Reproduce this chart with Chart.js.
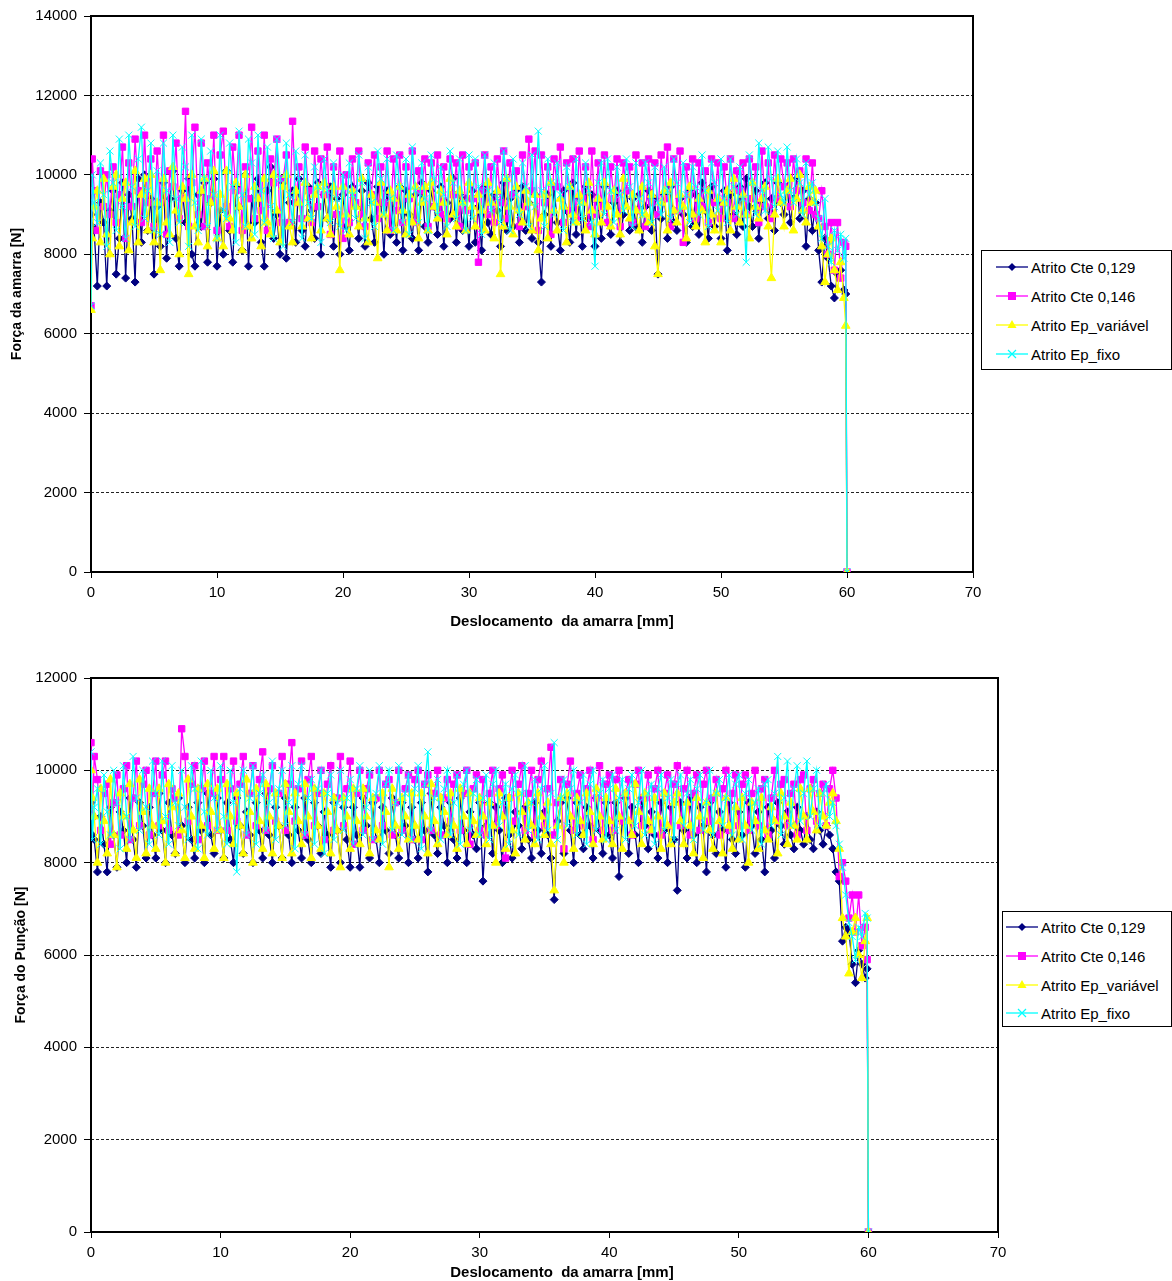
<!DOCTYPE html>
<html>
<head>
<meta charset="utf-8">
<script src="https://cdn.jsdelivr.net/npm/chart.js@4.4.1/dist/chart.umd.min.js"></script>
<style>
  body { margin: 0; background: #fff; width: 1172px; height: 1281px; position: relative; overflow: hidden;
         font-family: "Liberation Sans", Arial, sans-serif; color: #000; }
  canvas { position: absolute; left: 0; }
  #chartAmarra { top: 0; }
  #chartPuncao { top: 660px; }
  .xtitle { position: absolute; font-weight: bold; font-size: 15px; line-height: 18px; white-space: pre; transform: translateX(-50%); }
  .legend { position: absolute; box-sizing: border-box; border: 1px solid #000; background: #fff; font-size: 15px; }
  .legend .row { position: absolute; height: 20px; display: flex; align-items: center; white-space: nowrap; }
  .legend .row span { margin-left: 3px; }
</style>
</head>
<body>
<canvas id="chartAmarra" width="990" height="640"></canvas>
<canvas id="chartPuncao" width="1010" height="621"></canvas>
<div class="xtitle" style="left:562px;top:612px">Deslocamento  da amarra [mm]</div>
<div class="xtitle" style="left:562px;top:1263px">Deslocamento  da amarra [mm]</div>
<div class="legend" id="legendAmarra" style="left:981px;top:250px;width:191px;height:120px"></div>
<div class="legend" id="legendPuncao" style="left:1002px;top:911px;width:170px;height:116px"></div>

<script>
// displacement of the clamp [mm], shared by both charts
const displacement = [
  0, 0.1,
  0.25, 0.5, 0.75, 1, 1.25, 1.5, 1.75, 2, 2.25, 2.5, 2.75, 3, 3.25, 3.5, 3.75, 4, 4.25, 4.5, 4.75, 5,
  5.25, 5.5, 5.75, 6, 6.25, 6.5, 6.75, 7, 7.25, 7.5, 7.75, 8, 8.25, 8.5, 8.75, 9, 9.25, 9.5, 9.75, 10,
  10.25, 10.5, 10.75, 11, 11.25, 11.5, 11.75, 12, 12.25, 12.5, 12.75, 13, 13.25, 13.5, 13.75, 14, 14.25, 14.5, 14.75, 15,
  15.25, 15.5, 15.75, 16, 16.25, 16.5, 16.75, 17, 17.25, 17.5, 17.75, 18, 18.25, 18.5, 18.75, 19, 19.25, 19.5, 19.75, 20,
  20.25, 20.5, 20.75, 21, 21.25, 21.5, 21.75, 22, 22.25, 22.5, 22.75, 23, 23.25, 23.5, 23.75, 24, 24.25, 24.5, 24.75, 25,
  25.25, 25.5, 25.75, 26, 26.25, 26.5, 26.75, 27, 27.25, 27.5, 27.75, 28, 28.25, 28.5, 28.75, 29, 29.25, 29.5, 29.75, 30,
  30.25, 30.5, 30.75, 31, 31.25, 31.5, 31.75, 32, 32.25, 32.5, 32.75, 33, 33.25, 33.5, 33.75, 34, 34.25, 34.5, 34.75, 35,
  35.25, 35.5, 35.75, 36, 36.25, 36.5, 36.75, 37, 37.25, 37.5, 37.75, 38, 38.25, 38.5, 38.75, 39, 39.25, 39.5, 39.75, 40,
  40.25, 40.5, 40.75, 41, 41.25, 41.5, 41.75, 42, 42.25, 42.5, 42.75, 43, 43.25, 43.5, 43.75, 44, 44.25, 44.5, 44.75, 45,
  45.25, 45.5, 45.75, 46, 46.25, 46.5, 46.75, 47, 47.25, 47.5, 47.75, 48, 48.25, 48.5, 48.75, 49, 49.25, 49.5, 49.75, 50,
  50.25, 50.5, 50.75, 51, 51.25, 51.5, 51.75, 52, 52.25, 52.5, 52.75, 53, 53.25, 53.5, 53.75, 54, 54.25, 54.5, 54.75, 55,
  55.25, 55.5, 55.75, 56, 56.25, 56.5, 56.75, 57, 57.25, 57.5,
  57.75, 58, 58.25, 58.5, 58.75, 59, 59.25, 59.5, 59.75,
  59.9, 60
];

const seriesNames = ["Atrito Cte 0,129", "Atrito Cte 0,146", "Atrito Ep_variável", "Atrito Ep_fixo"];

// Força da amarra [N]
const amarraCte129 = [
  9000, 8700,
  8600, 7200, 9300, 8800, 7200, 9100, 9600, 7500, 8400, 9800, 7400, 9500, 8900, 7300, 9900, 8300, 10000, 8600, 9400, 7500,
  9200, 8200, 9800, 7900, 9400, 10100, 8400, 7700, 9600, 8800, 9900, 8000, 7700, 9500, 8700, 9800, 7800, 9300, 9900, 7700,
  9100, 8000, 10100, 8600, 7800, 9700, 9200, 8100, 10000, 7700, 9400, 8800, 9900, 8300, 7700, 9600, 10200, 8400, 9000, 8000,
  9800, 7900, 9300, 9600, 8300, 9900, 8600, 8200, 9700, 9100, 8400, 9800, 8000, 9500, 8900, 9700, 8200, 9400, 8000, 9500,
  8700, 8100, 9700, 9200, 8400, 9600, 8200, 9800, 8900, 8300, 9700, 9300, 8000, 9600, 8500, 9400, 8300, 9700, 8100, 9600,
  9000, 8400, 9500, 8100, 9800, 8700, 8300, 9600, 9200, 8500, 9700, 8200, 9300, 8900, 9900, 8300, 9500, 8600, 9400, 8200,
  9600, 8300, 9200, 8100, 9700, 8800, 8500, 9500, 9100, 8200, 9800, 8600, 9400, 8700, 9600, 8300, 9700, 8600, 9300, 8400,
  9500, 8300, 7300, 9000, 9500, 8200, 9700, 8800, 8100, 9600, 9100, 8300, 9800, 8500, 9400, 8200, 9700, 8900, 9500, 8200,
  9300, 8400, 9700, 8800, 8500, 9300, 9600, 8300, 9000, 9600, 8600, 9400, 8700, 9500, 8300, 9200, 9600, 8600, 9400, 7500,
  8900, 9500, 8400, 9700, 8800, 8600, 9400, 9000, 8300, 9600, 8700, 9500, 8500, 9800, 9100, 8400, 9700, 8700, 9300, 8400,
  9600, 8100, 9500, 9000, 8500, 9700, 8700, 9900, 9200, 8700, 9600, 8400, 9300, 9800, 8900, 9400, 8600, 9800, 9300, 9000,
  9700, 8800, 9400, 9900, 8900, 9600, 8200, 9400, 8600, 9300,
  8100, 7300, 8400, 7900, 7200, 6900, 7500, 7600, 7100,
  7000, 0
];
const amarraCte146 = [
  6700, 10400,
  9600, 8600, 10100, 9200, 10000, 9000, 10200, 8800, 9500, 10700, 8400, 10300, 9200, 10900, 9600, 8800, 11000, 9300, 10400, 8700,
  10600, 9300, 11000, 8500, 10100, 9700, 10800, 8900, 9400, 11600, 8700, 9800, 11200, 9000, 10800, 8700, 10300, 9400, 11000, 8600,
  10500, 11100, 9200, 8700, 10700, 9600, 11000, 8600, 10200, 9400, 11200, 8900, 10600, 9100, 11000, 8600, 10400, 9800, 10900, 8800,
  9900, 10500, 8800, 11350, 9300, 10200, 8900, 10700, 9600, 8800, 10600, 9200, 10400, 9500, 10700, 8500, 10200, 9000, 10600, 8400,
  10000, 8800, 10400, 9300, 10600, 9000, 8700, 10300, 9500, 10500, 8900, 10200, 9300, 10600, 8600, 10400, 9100, 10500, 8800, 10200,
  9400, 10600, 8800, 10100, 9600, 10400, 8700, 10300, 9200, 10500, 9000, 10200, 8900, 10400, 9500, 10300, 8700, 10500, 9100, 10200,
  9400, 10300, 7800, 9600, 10500, 9000, 10200, 8800, 10400, 9300, 10600, 8900, 10300, 9500, 10100, 8700, 10500, 9200, 10900, 9600,
  10600, 8600, 10500, 9300, 10200, 8500, 10400, 9700, 10700, 8800, 10300, 9100, 10400, 8900, 10600, 9400, 10200, 8700, 10600, 9000,
  10300, 9200, 10500, 8800, 10200, 9400, 10400, 8700, 10300, 9600, 10200, 8800, 10500, 9100, 10300, 8700, 10400, 9300, 10300, 9000,
  10500, 9400, 10700, 8700, 10400, 9100, 10600, 8300, 10200, 9500, 10400, 8900, 10300, 9200, 10100, 8800, 10400, 9300, 10300, 8900,
  10200, 9300, 10400, 8900, 10100, 9600, 10300, 9000, 10400, 9400, 10200, 8800, 10600, 9200, 10300, 8900, 10500, 9400, 10400, 9700,
  10300, 9200, 10400, 9600, 10100, 9300, 10400, 9100, 10300, 9000,
  8900, 9600, 8700, 8000, 8800, 7600, 8800, 7400, 8300,
  8200, 0
];
const amarraEpVar = [
  6600, 8400,
  9200, 9600, 8300, 9900, 8500, 8000, 9700, 10000, 8200, 9400, 9800, 8100, 8800, 10100, 8300, 9500, 9900, 8600, 10000, 8300,
  9300, 7600, 9900, 8800, 8500, 10200, 9100, 8000, 9700, 9400, 7500, 10000, 8700, 8300, 9600, 9900, 8200, 9300, 10100, 8400,
  9500, 8200, 10100, 8900, 8600, 9800, 9200, 8100, 10000, 8700, 8400, 9700, 9400, 8200, 9900, 8800, 8500, 10000, 9100, 8300,
  9700, 10000, 8700, 8300, 9600, 9300, 8700, 9800, 8900, 8400, 9500, 9700, 8600, 9800, 8900, 8500, 9700, 9200, 7600, 9700,
  9000, 8500, 9600, 9200, 8700, 9900, 8900, 8300, 9500, 9300, 7900, 9800, 9000, 8600, 9600, 9400, 8600, 9700, 9100, 8500,
  9500, 8800, 9700, 8400, 9300, 9700, 8600, 9800, 9200, 8900, 9600, 9300, 8500, 9900, 9000, 8700, 9600, 9300, 8600, 9800,
  9200, 8700, 9500, 9100, 8600, 9800, 9300, 8400, 9600, 7500, 8700, 9900, 9200, 8500, 9700, 9100, 8800, 9600, 9300, 8600,
  9500, 8100, 8900, 9500, 8400, 9800, 9100, 8600, 9400, 9200, 8300, 9700, 9000, 8800, 9500, 9300, 8600, 9800, 9100, 8500,
  9400, 8800, 9800, 9200, 8700, 9600, 9000, 8500, 9900, 9200, 8900, 9500, 9100, 8600, 9700, 9000, 8800, 9500, 8200, 7500,
  9300, 9600, 8600, 9800, 9100, 8800, 9500, 9200, 8400, 9700, 9000, 8700, 9400, 9100, 8300, 9600, 9000, 8600, 9400, 8300,
  9300, 9600, 8600, 9900, 9200, 8800, 9500, 9000, 8400, 9800, 9200, 8900, 9400, 9700, 8700, 7400, 9000, 9900, 9300, 8700,
  9600, 9900, 8600, 9400, 10000, 9100, 8800, 9700, 9300, 9600,
  8700, 8200, 7300, 8000, 8400, 7600, 7100, 7800, 6900,
  6200, 0
];
const amarraEpFixo = [
  6700, 10000,
  9300, 8800, 10300, 9500, 8200, 10600, 9800, 8600, 10900, 9200, 8400, 11000, 9700, 8700, 10400, 11200, 8900, 9600, 10800, 8600,
  10100, 8500, 10800, 9600, 8300, 11000, 9400, 8800, 10700, 10200, 8200, 11000, 9300, 8600, 10900, 9900, 8700, 10600, 9500, 8400,
  11000, 9100, 8900, 10800, 9700, 8300, 11100, 9500, 8700, 10900, 10300, 8500, 11000, 9600, 8800, 10700, 9200, 8400, 10900, 9900,
  8200, 10800, 9500, 8800, 10600, 9900, 8400, 10500, 9300, 8900, 10200, 9700, 8300, 10400, 9600, 8800, 10300, 9400, 8700, 10000,
  8600, 10300, 9500, 8900, 10500, 9800, 8400, 10200, 9300, 8700, 10600, 9900, 9000, 10400, 9400, 8600, 10500, 9700, 8800, 10400,
  8500, 10700, 9600, 8800, 10300, 9400, 8600, 10500, 9900, 9000, 10200, 9500, 8700, 10600, 9800, 8900, 10400, 9300, 8600, 10500,
  8900, 10400, 9700, 8500, 10500, 9600, 9100, 10300, 9400, 8800, 10600, 9900, 8600, 10400, 9500, 9000, 10300, 9700, 8700, 10500,
  9200, 11100, 9600, 8700, 10400, 9800, 9000, 10300, 9500, 8600, 10200, 9700, 8800, 10400, 9300, 8900, 10300, 9600, 8800, 7700,
  9800, 10300, 9000, 10400, 9600, 8800, 10200, 9500, 9100, 10400, 9700, 8700, 10300, 9400, 9000, 10300, 9800, 8800, 10200, 9300,
  9000, 10200, 9600, 8900, 10400, 9800, 9100, 10300, 9500, 8800, 10200, 9700, 9000, 10500, 9600, 8700, 10300, 9800, 9100, 10400,
  9400, 8800, 10400, 9700, 9000, 10200, 9400, 7800, 10500, 9800, 9000, 10800, 9600, 9100, 10700, 9900, 9200, 10600, 9500, 9300,
  10700, 9600, 9300, 10400, 9800, 9000, 10300, 9500, 9800, 9300,
  8900, 8400, 9400, 8200, 7800, 8600, 8100, 8500, 7900,
  8400, 0
];

// Força do Punção [N]
const puncaoCte129 = [
  9300, 8600,
  8500, 7800, 9000, 8400, 7800, 9200, 8600, 7900, 9100, 8700, 8000, 9400, 8500, 7900, 9300, 8800, 8100, 9200, 8600, 8100,
  9500, 8700, 8000, 9300, 8600, 8200, 9400, 8800, 8000, 9200, 8500, 8100, 9300, 8700, 8000, 9500, 8600, 8200, 9400, 8700,
  8100, 9300, 8500, 8000, 9400, 8800, 8200, 9100, 8600, 8000, 9300, 8700, 8100, 9500, 8600, 8000, 9200, 8800, 8100, 9400,
  8600, 8000, 9200, 8700, 8100, 9400, 8500, 8000, 9300, 8800, 8200, 9100, 8600, 7900, 9300, 8700, 8000, 9200, 8500, 7900,
  9200, 8600, 7900, 9400, 8800, 8100, 9300, 8500, 8000, 9200, 8700, 8200, 9400, 8600, 8100, 9300, 8800, 8000, 9200, 8500,
  8100, 9300, 8700, 7800, 9500, 8600, 8200, 9200, 8800, 8000, 9300, 8500, 8100, 9400, 8700, 8000, 9100, 8600, 8300, 9300,
  7600, 8800, 9300, 8200, 9200, 8700, 8000, 9400, 8600, 8100, 9100, 8800, 8300, 9200, 8500, 8100, 9300, 8700, 8200, 9100,
  8600, 8100, 7200, 8900, 9300, 8200, 9400, 8700, 8000, 9300, 8600, 8300, 9200, 8800, 8100, 9400, 8700, 8200, 9300, 8600,
  8100, 9300, 7700, 8900, 9400, 8200, 9200, 8600, 8000, 9400, 8800, 8300, 9100, 8600, 8100, 9300, 8700, 8000, 9200, 8500,
  7400, 9300, 8700, 8100, 9400, 8600, 8000, 9200, 8800, 7800, 9300, 8600, 8200, 9100, 8700, 7900, 9300, 8500, 8200, 9100,
  8600, 7900, 9300, 8800, 8200, 9100, 8500, 7800, 9200, 8700, 8100, 9300, 8800, 8400, 9100, 8600, 8300, 9200, 8700, 8400,
  9000, 8500, 8300, 9100, 8700, 8400, 8800, 8600, 8300, 7800,
  7600, 6300, 6600, 6500, 5800, 5400, 6100, 5800, 5500,
  5700, 0
];
const puncaoCte146 = [
  10600, 9000,
  10300, 9800, 8700, 9500, 9700, 8400, 9300, 9900, 8600, 9600, 10100, 8500, 9400, 10200, 8800, 9700, 10000, 8600, 9500, 10200,
  8800, 9900, 10200, 8700, 9600, 9400, 8600, 10900, 10300, 8900, 9700, 10100, 8500, 9600, 10200, 8800, 9500, 10300, 8700, 9800,
  10300, 8700, 9600, 10200, 8900, 9700, 10300, 8600, 9500, 10100, 8800, 9800, 10400, 8700, 9600, 10100, 8900, 9500, 10300, 8700,
  9700, 10600, 8900, 9600, 10200, 8600, 9800, 10300, 8800, 9500, 10000, 8500, 9700, 10100, 8700, 9400, 10300, 8800, 9600, 10200,
  8400, 9500, 10000, 8700, 9600, 9900, 8500, 9400, 10000, 8800, 9700, 9800, 8600, 9300, 10000, 8700, 9600, 9900, 8500, 9800,
  10000, 8500, 9700, 9900, 8700, 9500, 10000, 8600, 9400, 9800, 8900, 9700, 9900, 8700, 9500, 10000, 8400, 9600, 9900, 8700,
  9800, 8600, 9500, 10000, 8800, 9600, 9900, 8100, 9400, 10000, 8900, 9700, 10100, 8700, 9500, 10000, 8600, 9800, 10200, 8800,
  9600, 10500, 8600, 9300, 9800, 8300, 9700, 10200, 8700, 9500, 9900, 8800, 9600, 10000, 8500, 9400, 10100, 8700, 9700, 9900,
  8700, 9800, 10000, 8900, 9500, 9800, 8600, 9700, 10000, 8800, 9400, 9900, 8700, 9600, 10000, 8600, 9500, 9900, 8800, 9700,
  10100, 8800, 9600, 10000, 8600, 9500, 9900, 8700, 9700, 10000, 8900, 9400, 9800, 8600, 9600, 10000, 8700, 9500, 9900, 8800,
  9700, 9900, 8700, 9500, 10000, 8800, 9600, 9800, 8600, 9400, 10000, 8900, 9700, 9800, 8800, 9500, 9700, 8600, 9800, 9900,
  8700, 9600, 9800, 8900, 9500, 9700, 8800, 9600, 10000, 9400,
  7700, 8000, 7600, 6800, 7300, 6500, 7300, 6200, 6600,
  5900, 0
];
const puncaoEpVar = [
  10000, 9400,
  9000, 8000, 9600, 8900, 8200, 9800, 8600, 7900, 9500, 9000, 8300, 9700, 8700, 8100, 9800, 9100, 8200, 9600, 8800, 8300,
  9600, 8900, 8000, 9700, 9200, 8200, 9500, 8700, 8100, 9800, 9000, 8300, 9600, 8800, 8100, 9700, 9100, 8300, 9600, 8700,
  8100, 9700, 9000, 8400, 9500, 8800, 8200, 9800, 9100, 8000, 9600, 8900, 8300, 9700, 9000, 8200, 9500, 8800, 8100, 9700,
  9100, 8200, 9500, 8900, 8400, 9700, 9000, 8100, 9600, 8800, 8300, 9500, 9100, 8200, 9400, 8700, 7900, 9400, 9000, 8300,
  9600, 8900, 8400, 9600, 9000, 8200, 9400, 8700, 8500, 9500, 9100, 7900, 9600, 8800, 8300, 9400, 9000, 8500, 9500, 8800,
  8500, 9500, 9000, 8200, 9700, 8900, 8400, 9400, 9100, 8600, 9500, 8800, 8300, 9600, 9000, 8400, 9500, 8900, 8600, 9400,
  9000, 8400, 9300, 8800, 8000, 9500, 9000, 8300, 9400, 8700, 8200, 9500, 9100, 8500, 9300, 8800, 8400, 9500, 9000, 8600,
  9300, 8400, 7400, 8800, 9400, 8000, 9500, 9000, 8300, 9400, 8900, 8600, 9500, 9100, 8400, 9600, 9000, 8500, 9400, 8900,
  8400, 9600, 9000, 8300, 9500, 8900, 8600, 9700, 9100, 8400, 9500, 8900, 8700, 9400, 9000, 8300, 9500, 8800, 8400, 9300,
  9500, 8900, 8400, 9300, 8800, 8200, 9400, 9000, 8100, 9300, 8700, 8300, 9500, 8900, 8200, 9400, 8800, 8300, 9200, 8500,
  9400, 8800, 8000, 9300, 8900, 8300, 9400, 8700, 8500, 9200, 8900, 8200, 9500, 9000, 8400, 9300, 8800, 8500, 9600, 9000,
  8500, 9600, 9100, 8700, 9500, 9000, 8800, 9300, 9500, 8900,
  8300, 6800, 6400, 5600, 6500, 6800, 6000, 5500, 6300,
  6800, 0
];
const puncaoEpFixo = [
  10400, 8500,
  9200, 9600, 8400, 9900, 9100, 8600, 10000, 9300, 8300, 10100, 9000, 8500, 10300, 9400, 8700, 10000, 9200, 8400, 10200, 9500,
  8600, 10200, 9000, 8400, 10100, 9300, 8800, 10000, 9200, 8500, 10100, 9600, 8300, 10200, 9100, 8600, 10000, 9400, 8700, 10100,
  9000, 8400, 10000, 9300, 7800, 9600, 10000, 8600, 9400, 10100, 8400, 9500, 9900, 8700, 9300, 10200, 8500, 9600, 10000, 8800,
  9300, 10100, 8300, 9700, 10100, 8600, 9400, 9800, 8400, 9600, 10000, 8200, 9500, 9900, 8500, 9300, 10000, 8700, 9400, 9800,
  8400, 9600, 10100, 8600, 9200, 10000, 8500, 9500, 10100, 8400, 9700, 10000, 8700, 9300, 10100, 8600, 9500, 9900, 8500, 9600,
  10100, 8300, 9700, 10400, 8700, 9400, 9800, 8500, 9600, 10000, 8600, 9300, 9900, 8400, 9700, 10000, 8700, 9500, 9800, 8600,
  9400, 9900, 8500, 9700, 10000, 8800, 9300, 9700, 8400, 9600, 9900, 8600, 9500, 10100, 8700, 9300, 9800, 8500, 9600, 10100,
  8700, 9500, 10600, 8500, 9400, 9800, 8800, 9600, 10000, 8600, 9300, 9900, 8400, 9700, 10000, 8700, 9500, 9800, 8500, 9600,
  9900, 8700, 9400, 9800, 8500, 9600, 9900, 8800, 9300, 10000, 8600, 9500, 9700, 8400, 9600, 9900, 8700, 9400, 9800, 8500,
  9700, 9900, 8800, 9500, 9800, 8500, 9600, 9900, 8700, 9300, 10000, 8600, 9500, 9800, 8800, 9400, 9900, 8600, 9700, 9900,
  8500, 9500, 9800, 8700, 9300, 9600, 8400, 9700, 9800, 8800, 9500, 10300, 8600, 9400, 10200, 8800, 9600, 10100, 8900, 9500,
  10200, 9000, 9600, 10000, 8800, 9500, 9700, 9000, 9300, 8800,
  8400, 7900, 7300, 6700, 6400, 5900, 6600, 6400, 6900,
  6800, 0
];

const colors = ["#000080", "#FF00FF", "#FFFF00", "#00FFFF"];
const markers = ["rectRot", "rect", "triangle", "crossRot"];
const markerSize = [4, 4.5, 5, 5];

function makeDatasets(seriesList) {
  return seriesList.map((values, i) => ({
    label: seriesNames[i],
    data: displacement.map((x, k) => ({ x: x, y: values[k] })),
    borderColor: colors[i],
    backgroundColor: colors[i],
    borderWidth: 1.3,
    pointStyle: markers[i],
    pointRadius: markerSize[i],
    pointBorderWidth: 1,
    pointBackgroundColor: colors[i],
    pointBorderColor: colors[i],
    order: 3 - i,
    tension: 0
  }));
}

// black frame round the plot area, like the spreadsheet chart
const frame = {
  id: "frame",
  beforeDatasetsDraw(chart) {
    const a = chart.chartArea;
    const ctx = chart.ctx;
    ctx.save();
    ctx.strokeStyle = "#000";
    ctx.lineWidth = 2;
    ctx.strokeRect(a.left, a.top, a.right - a.left, a.bottom - a.top);
    ctx.restore();
  }
};

function makeChart(canvasId, seriesList, yMax, yTitle, pad, xHeight, yTitlePad) {
  return new Chart(document.getElementById(canvasId), {
    type: "line",
    data: { datasets: makeDatasets(seriesList) },
    plugins: [frame],
    options: {
      responsive: false,
      animation: false,
      layout: { padding: pad },
      plugins: { legend: { display: false }, tooltip: { enabled: false } },
      scales: {
        x: {
          type: "linear",
          min: 0, max: 70,
          ticks: { stepSize: 10, color: "#000", padding: 6, font: { family: "Liberation Sans", size: 15 },
                   callback: v => String(v) },
          grid: { drawOnChartArea: false, drawTicks: true, tickLength: 6, tickColor: "#000", tickWidth: 1 },
          border: { display: false },
          afterFit(scale) { scale.height = xHeight; scale.paddingLeft = 0; scale.paddingRight = 0; }
        },
        y: {
          min: 0, max: yMax,
          ticks: { stepSize: 2000, color: "#000", padding: 7, font: { family: "Liberation Sans", size: 15 },
                   callback: v => String(v) },
          grid: { color: "#222", lineWidth: 1, tickLength: 7, tickColor: "#000", tickBorderDash: [] },
          border: { display: false, dash: [3, 2] },
          title: { display: true, text: yTitle, color: "#000", padding: { top: yTitlePad, bottom: 0 },
                   font: { family: "Liberation Sans", size: 14, weight: "bold" } },
          afterFit(scale) { scale.width = 91; scale.paddingTop = 0; scale.paddingBottom = 0; }
        }
      }
    }
  });
}

makeChart("chartAmarra", [amarraCte129, amarraCte146, amarraEpVar, amarraEpFixo], 14000,
  "Força da amarra [N]", { top: 16, right: 17, left: 0, bottom: 0 }, 68, 9);
makeChart("chartPuncao", [puncaoCte129, puncaoCte146, puncaoEpVar, puncaoEpFixo], 12000,
  "Força do Punção [N]", { top: 18, right: 12, left: 0, bottom: 0 }, 49, 13);

// legends: line with marker, then the series name
function markerSvg(i) {
  const c = colors[i];
  let m = "";
  if (i === 0) m = `<polygon points="16,3 20,7 16,11 12,7" fill="${c}"/>`;
  if (i === 1) m = `<rect x="12" y="3" width="8" height="8" fill="${c}"/>`;
  if (i === 2) m = `<polygon points="16,2 20.5,10 11.5,10" fill="${c}"/>`;
  if (i === 3) m = `<path d="M12 3 L20 11 M20 3 L12 11" stroke="${c}" stroke-width="1.2"/>`;
  return `<svg width="32" height="14"><line x1="0" y1="7" x2="32" y2="7" stroke="${c}" stroke-width="1.3"/>${m}</svg>`;
}

function buildLegend(id, left, rowCenters) {
  const box = document.getElementById(id);
  seriesNames.forEach((name, i) => {
    const row = document.createElement("div");
    row.className = "row";
    row.style.left = left + "px";
    row.style.top = (rowCenters[i] - 10) + "px";
    row.innerHTML = markerSvg(i) + "<span>" + name + "</span>";
    box.appendChild(row);
  });
}

buildLegend("legendAmarra", 14, [16, 45, 74, 103]);
buildLegend("legendPuncao", 3, [15, 44, 73, 101]);
</script>
</body>
</html>
